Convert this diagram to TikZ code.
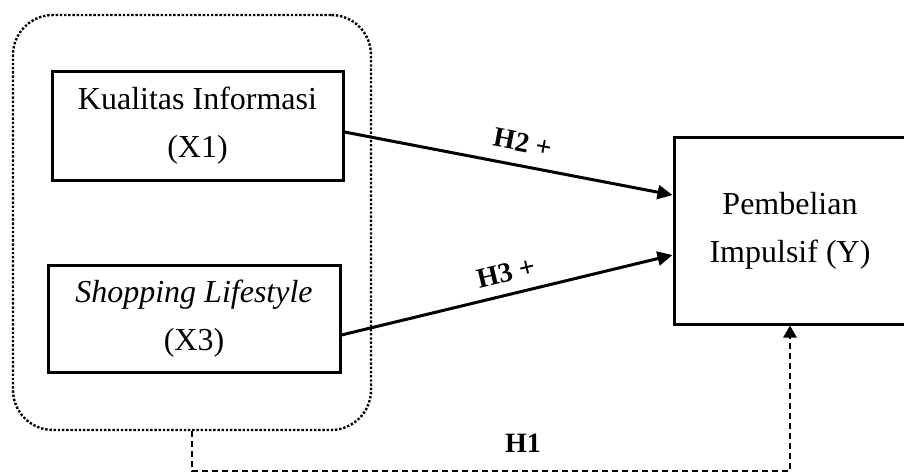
\documentclass[tikz,border=0pt]{standalone}
\usepackage{fontspec}
\setmainfont{Liberation Serif}
\usetikzlibrary{arrows.meta,calc}
\tikzstyle{varbox} = [draw,line width=1.5pt,align=center,inner sep=0pt,font=\fontsize{16}{24}\selectfont]
\tikzstyle{grpbox} = [draw,rounded corners=20pt,line width=1.2pt,dash pattern=on 1.2pt off 0.9pt]
\tikzstyle{rel} = [line width=1.5pt,-{Triangle[length=7.5pt,width=7pt]}]
\tikzstyle{hlabel} = [font=\fontsize{14}{14}\selectfont\bfseries]

\begin{document}
\begin{tikzpicture}[x=0.5pt,y=-0.5pt]
\useasboundingbox (0,0) rectangle (904,471);

\node[grpbox,minimum width=179pt,minimum height=207.5pt] (grp) at (192,222.5) {};
\node[varbox,minimum width=145.5pt,minimum height=54.5pt] (x1) at (197.5,125.5) {Kualitas Informasi\\(X1)};
\node[varbox,minimum width=146pt,minimum height=53.5pt]   (x3) at (194,318.5) {\textit{Shopping Lifestyle}\\(X3)};
\node[varbox,minimum width=116pt,minimum height=93.5pt]   (y)  at (790,230.5) {Pembelian\\Impulsif (Y)};

\draw[rel] ($(x1.east)+(0,6.5)$) -- ($(y.west)+(0,-35.5)$)
  node[hlabel,midway,above=3pt,sloped,xshift=5pt] {H2 +};
\draw[rel] ($(x3.east)+(0,16.5)$) -- ($(y.west)+(0,24.5)$)
  node[hlabel,midway,above=2pt,sloped,xshift=2pt] {H3 +};

\draw[line width=1.2pt,dash pattern=on 3pt off 2pt,-{Triangle[length=6pt,width=6.5pt]}]
  (grp.south) -- ++(0,40) -| (y.south);
\node[hlabel] (h1) at (523,443) {H1};
\end{tikzpicture}
\end{document}
